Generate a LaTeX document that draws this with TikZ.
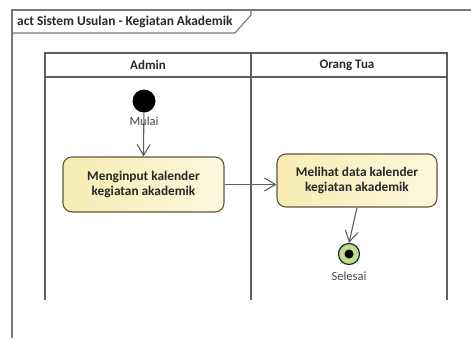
\documentclass[tikz,border=0pt]{standalone}
\usepackage{fontspec}
\setmainfont{Carlito}
\usetikzlibrary{arrows.meta}
\definecolor{framec}{RGB}{120,120,120}
\definecolor{lanec}{RGB}{95,95,95}
\definecolor{boxedge}{RGB}{90,88,60}
\definecolor{boxl}{RGB}{247,236,178}
\definecolor{boxr}{RGB}{253,248,222}
\definecolor{endg}{RGB}{190,222,140}
\definecolor{txt}{RGB}{40,40,40}
\definecolor{lbl}{RGB}{70,70,70}
\tikzset{
  frameline/.style={draw=framec, line width=1.1pt},
  laneline/.style={draw=lanec, line width=1.2pt},
  hdr/.style={font=\bfseries\fontsize{13}{15}\selectfont, text=txt},
  actbox/.style={rounded corners=9pt, draw=boxedge, line width=1.1pt,
    left color=boxl, right color=boxr, align=center,
    font=\bfseries\fontsize{13.3}{14.5}\selectfont, text=txt, inner sep=0pt},
  flow/.style={draw=lanec, line width=1.1pt, -{Straight Barb[length=11pt,width=13pt,line width=1.1pt]}},
  lbltext/.style={font=\fontsize{12.5}{14}\selectfont, text=lbl, inner sep=0pt}
}
\begin{document}
\begin{tikzpicture}[x=1pt,y=-1pt]
\useasboundingbox (0,0) rectangle (471,338);
% frame
\draw[frameline] (12,338) -- (12,10) -- (471,10);
\draw[frameline] (12,33) -- (235,33) -- (251,15) -- (251,10);
\node[anchor=west, font=\bfseries\fontsize{13.4}{16}\selectfont, text=txt, inner sep=0pt] (title) at (17,22) {act Sistem Usulan - Kegiatan Akademik};
% lanes
\draw[laneline] (45,300) -- (45,53) -- (447,53) -- (447,300);
\draw[laneline] (45,77) -- (447,77);
\draw[laneline] (251,53) -- (251,300);
\node[hdr] (hadmin) at (148,65) {Admin};
\node[hdr] (hortu) at (347,65) {Orang Tua};
% start
\node[circle, fill=black, minimum size=23pt, inner sep=0pt] (start) at (144,101) {};
% activities
\node[actbox, minimum width=161pt, minimum height=55pt] (box1) at (143.5,184.5) {Menginput kalender\\kegiatan akademik};
\node[actbox, minimum width=160pt, minimum height=53pt] (box2) at (357,180.5) {Melihat data kalender\\kegiatan akademik};
% end
\node[circle, draw=txt, line width=1.2pt, fill=endg, minimum size=21pt, inner sep=0pt] (end) at (349,254) {};
\node[circle, fill=black, minimum size=9pt, inner sep=0pt] (enddot) at (end.center) {};
% flows
\draw[flow] (start) -- (box1.north);
\draw[flow] (box1.east) -- (box1.east -| box2.west);
\draw[flow] (box2.south) -- (end.north);
% labels
\node[lbltext] (mulai) at (144,121) {Mulai};
\node[lbltext] (selesai) at (349,276) {Selesai};
\end{tikzpicture}
\end{document}
